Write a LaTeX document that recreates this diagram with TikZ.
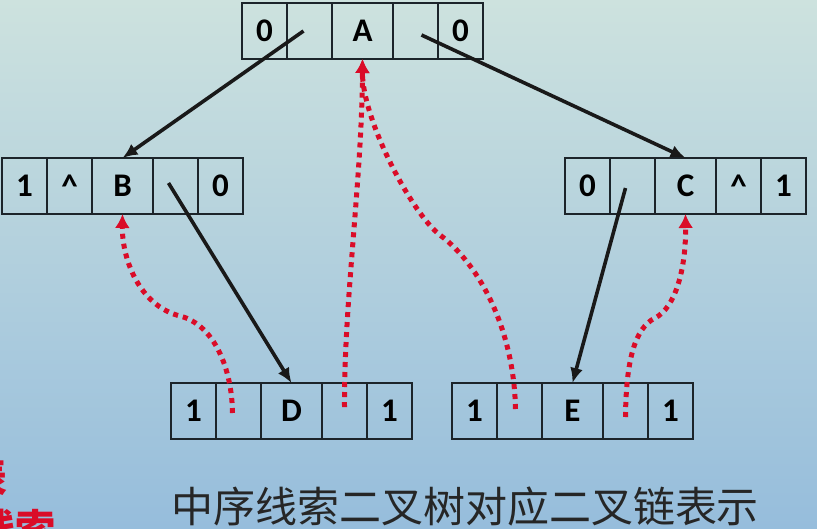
\documentclass[tikz,border=0pt]{standalone}
\usepackage{fontspec}
\newfontfamily\cellfont{Carlito}
\newfontfamily\cjk{Noto Sans CJK SC}
\usetikzlibrary{positioning,arrows.meta}
\tikzset{>={Latex[length=15pt,width=13pt]}}
\definecolor{bgtop}{RGB}{205,226,222}
\definecolor{bgbot}{RGB}{150,189,220}
\definecolor{boxline}{RGB}{28,36,42}
\definecolor{thread}{RGB}{218,12,40}
\tikzset{
    cellbox/.style={draw=boxline, line width=1.4pt, minimum width=45pt, minimum height=56pt,
        inner sep=0pt, outer sep=0pt, font=\cellfont\bfseries\fontsize{33}{33}\selectfont},
    databox/.style={cellbox, minimum width=61pt},
    child/.style={->, line width=3.6pt, black!90},
    threadline/.style={-{Latex[length=14pt,width=15pt]}, thread, line width=5pt,
        dash pattern=on 5pt off 5pt},
}
% one node of the threaded list: ltag, lchild, data, rchild, rtag
\newcommand{\datarow}[7]{%
    \node[cellbox, anchor=north west] (#11) at #2 {#3};
    \node[cellbox, right=0pt of #11] (#12) {#4};
    \node[databox, right=0pt of #12] (#13) {#5};
    \node[cellbox, right=0pt of #13] (#14) {#6};
    \node[cellbox, right=0pt of #14] (#15) {#7};
}

\begin{document}
\begin{tikzpicture}[x=1pt, y=-1pt]
    \useasboundingbox (0, 0) rectangle (817, 528);
    \shade[top color=bgtop, bottom color=bgbot] (0, 0) rectangle (817, 528);

    \datarow{A}{(242, 3)}{0}{}{A}{}{0}
    \datarow{B}{(2, 158)}{1}{\textasciicircum}{B}{}{0}
    \datarow{C}{(565, 158)}{0}{}{C}{\textasciicircum}{1}
    \datarow{D}{(171, 383)}{1}{}{D}{}{1}
    \datarow{E}{(452, 383)}{1}{}{E}{}{1}

    % child links
    \draw[child]([xshift=-6pt]A2.center)--(B3.north);
    \draw[child]([xshift=6pt, yshift=-4pt]A4.center)--(C3.north);
    \draw[child]([xshift=-7pt, yshift=3pt]B4.center)--(D3.north);
    \draw[child]([xshift=-7pt, yshift=-2pt]C2.center)--(E3.north);

    % threads
    \coordinate (d2t) at ([xshift=-6pt, yshift=-2pt]D2.center);
    \coordinate (d4t) at ([yshift=4pt]D4.center);
    \coordinate (e2t) at ([xshift=-4pt, yshift=2pt]E2.center);
    \coordinate (e4t) at ([yshift=-6pt]E4.center);
    \draw[threadline](d2t) .. controls (232, 370) and (215, 325) .. (180, 316)
        .. controls (140, 306) and (122, 260) .. (B3.south);
    \draw[threadline](d4t) .. controls (344, 300) and (362, 180) .. (A3.south);
    \draw[threadline](e2t) .. controls (514, 330) and (480, 265) .. (440, 235)
        .. controls (413, 215) and (362, 120) .. (A3.south);
    \draw[threadline](e4t) .. controls (626, 360) and (635, 328) .. (655, 318)
        .. controls (675, 308) and (686, 270) .. (C3.south);

    \node[font=\cjk\fontsize{42}{42}\selectfont, text=black!85] (caption) at (465, 507)
        {中序线索二叉树对应二叉链表示};
    \begin{scope}
        \clip (0, 0) rectangle (817, 528);
        \node[font=\cjk\bfseries\fontsize{40}{40}\selectfont, text=thread, anchor=east]
            (sidetop) at (11, 477) {表};
        \node[font=\cjk\bfseries\fontsize{40}{40}\selectfont, text=thread, anchor=north west]
            (sidebot) at (-28, 506) {线索};
    \end{scope}
\end{tikzpicture}
\end{document}
